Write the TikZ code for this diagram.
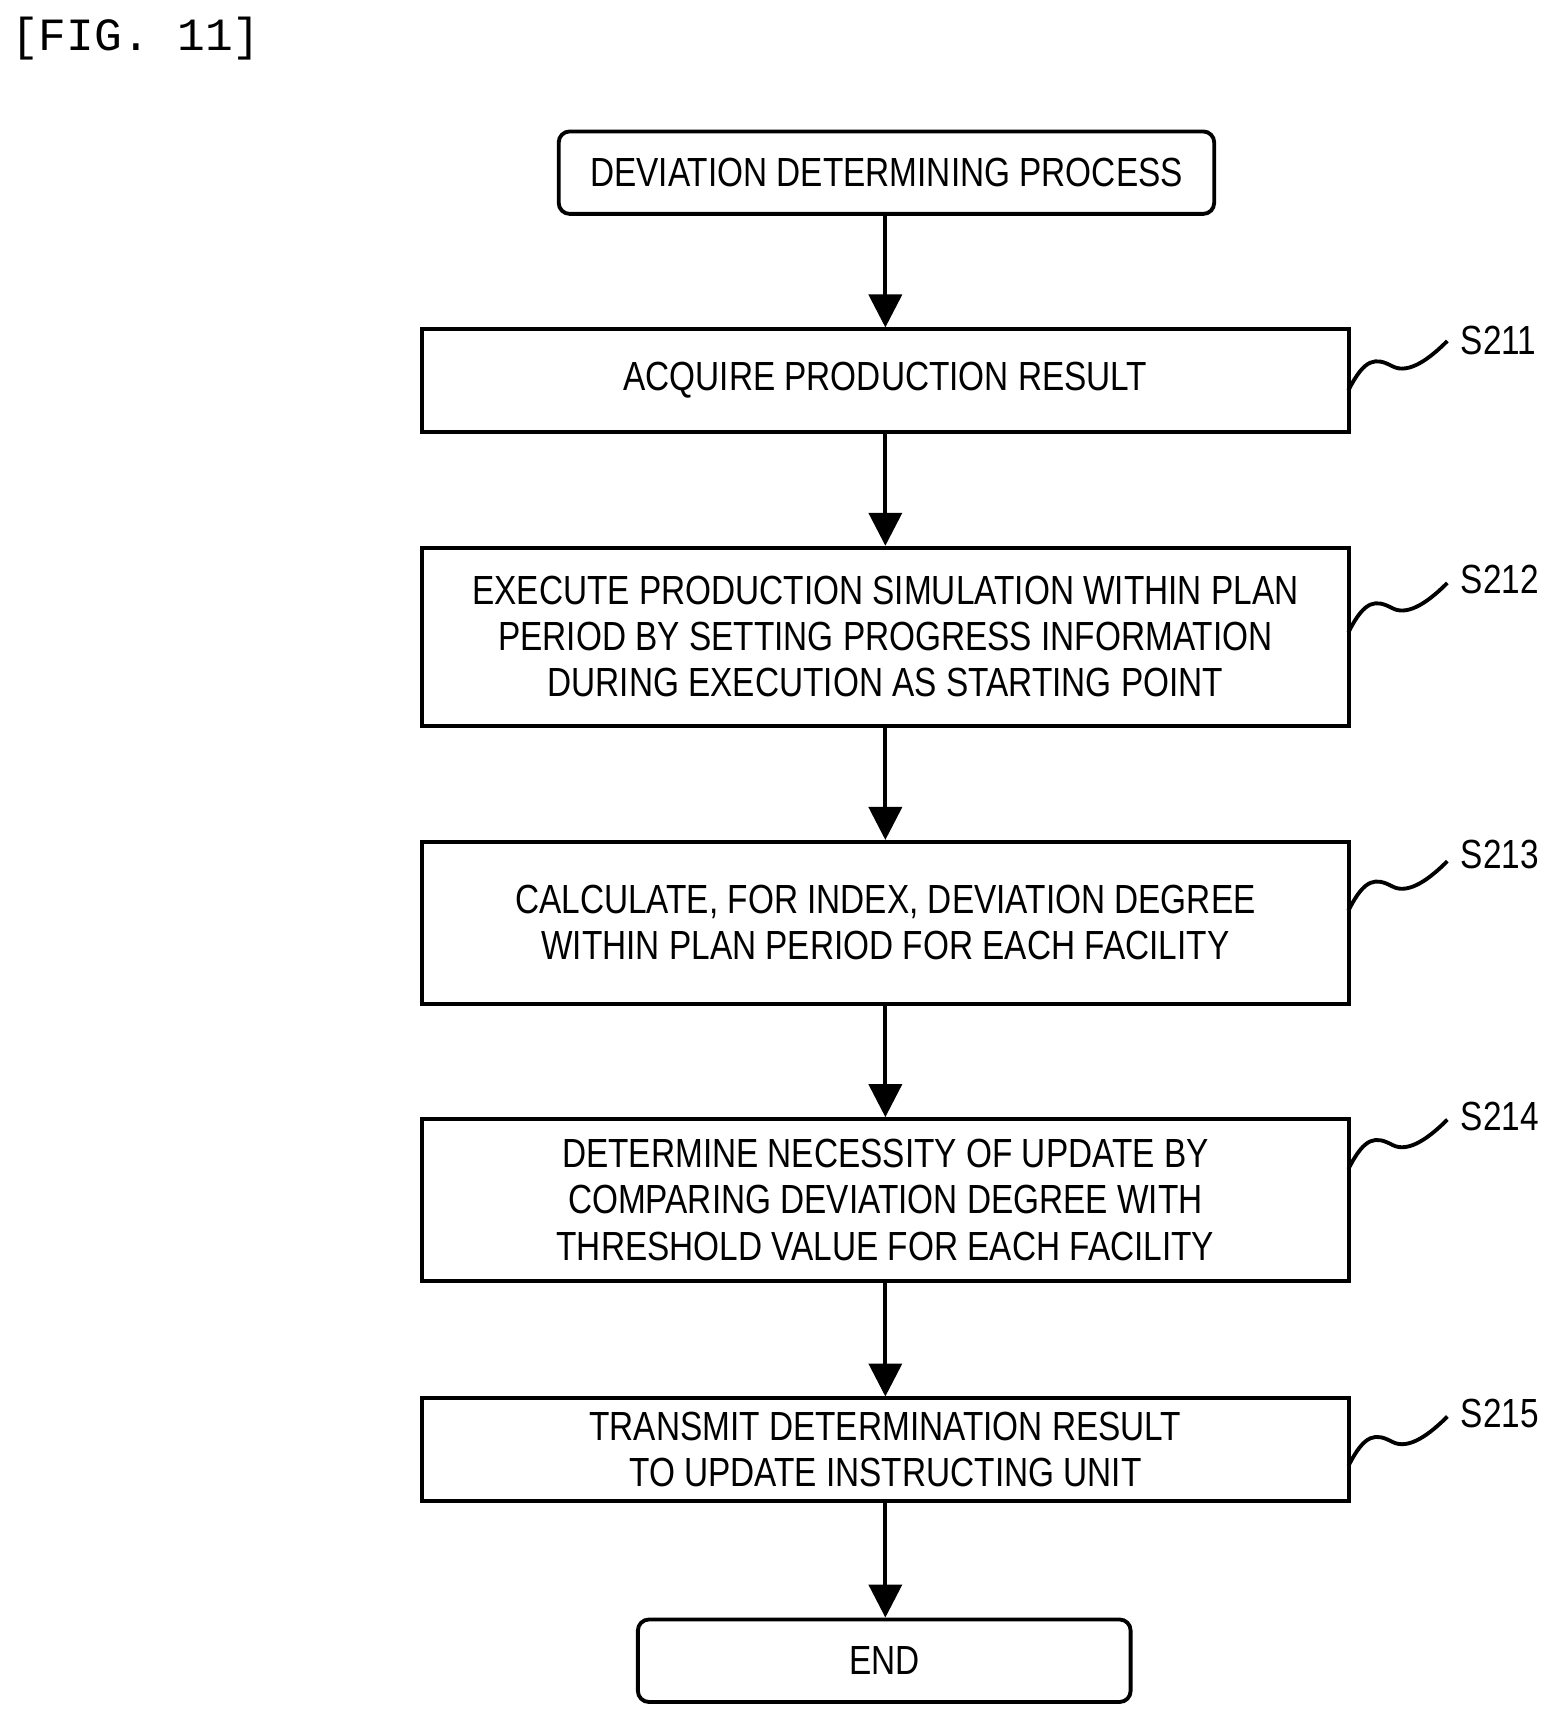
\documentclass[tikz,border=0pt]{standalone}
\usepackage{fontspec}
\setmainfont[FakeStretch=0.82]{Liberation Sans}
\newfontfamily\figmono{Liberation Mono}
\usetikzlibrary{arrows.meta}
\begin{document}
\begin{tikzpicture}[x=1pt,y=-1pt,
  box/.style={draw,line width=3.5pt,minimum width=843pt,align=center,font=\fontsize{37}{42}\selectfont,inner sep=0pt},
  term/.style={box,rounded corners=10pt},
  arr/.style={line width=3.5pt,-{Triangle[width=30pt,length=30pt]}},
  lab/.style={font=\fontsize{37}{42}\selectfont,anchor=west,inner sep=0pt}]
\useasboundingbox (0,0) rectangle (1420,1563);
\node[font=\figmono\fontsize{42}{46}\selectfont,anchor=west,inner sep=0pt] (fig) at (10,35) {[FIG. 11]};
\node[term,minimum width=596pt,minimum height=75pt] (st) at (806,157) {DEVIATION DETERMINING PROCESS};
\node[box,minimum height=93pt] (b1) at (805,346) {ACQUIRE PRODUCTION RESULT};
\node[box,minimum height=162pt] (b2) at (805,579) {EXECUTE PRODUCTION SIMULATION WITHIN PLAN\\PERIOD BY SETTING PROGRESS INFORMATION\\DURING EXECUTION AS STARTING POINT};
\node[box,minimum height=147pt] (b3) at (805,839) {CALCULATE, FOR INDEX, DEVIATION DEGREE\\WITHIN PLAN PERIOD FOR EACH FACILITY};
\node[box,minimum height=147pt] (b4) at (805,1091) {DETERMINE NECESSITY OF UPDATE BY\\COMPARING DEVIATION DEGREE WITH\\THRESHOLD VALUE FOR EACH FACILITY};
\node[box,minimum height=93pt] (b5) at (805,1318) {TRANSMIT DETERMINATION RESULT\\TO UPDATE INSTRUCTING UNIT};
\node[term,minimum width=448pt,minimum height=75pt] (en) at (804,1510) {END};
\draw[arr] (st.south -| b1.north) -- (b1.north);
\draw[arr] (b1) -- (b2);
\draw[arr] (b2) -- (b3);
\draw[arr] (b3) -- (b4);
\draw[arr] (b4) -- (b5);
\draw[arr] (b5.south) -- (b5.south |- en.north);
\foreach \b/\t/\yl/\ys in {b1/S211/310/355,b2/S212/527/575,b3/S213/777/828,b4/S214/1015/1063,b5/S215/1285/1333}{
  \node[lab] (l\b) at (1328,\yl) {\t};
  \coordinate (s\b) at (1226,\ys);
  \draw[line width=3.5pt] (s\b) .. controls +(15,-30) and +(-15,-8) .. ++(40,-22) .. controls +(15,8) and +(-15,15) .. ++(50,-23);
}
\end{tikzpicture}
\end{document}
